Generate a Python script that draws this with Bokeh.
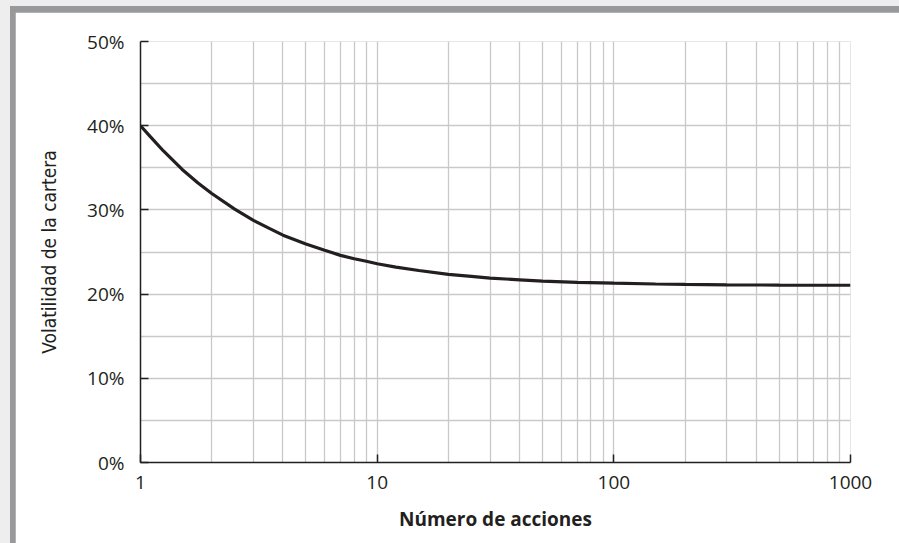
from bokeh.plotting import figure
from bokeh.layouts import column
from bokeh.models import Range1d, FixedTicker, PrintfTickFormatter
from bokeh.embed import file_html
from bokeh.resources import INLINE

# Data (portfolio volatility in % vs. number of stocks)
n_stocks = [1, 1.1, 1.25, 1.5, 1.75, 2, 2.5, 3, 3.5, 4, 5, 6, 7, 8, 9, 10, 12, 15, 20, 25, 30,
            40, 50, 70, 100, 150, 200, 300, 500, 1000]
volatility = [40.0, 38.7, 37.0, 34.8, 33.2, 31.95, 30.1, 28.75, 27.8, 27.0, 25.95, 25.2, 24.6,
              24.2, 23.9, 23.6, 23.2, 22.8, 22.35, 22.1, 21.9, 21.7, 21.55, 21.4, 21.3,
              21.2, 21.15, 21.1, 21.07, 21.05]

x_major = [1, 10, 100, 1000]
x_tick_labels = ["1", "10", "100", "1000"]
x_minor = [2, 3, 4, 5, 6, 7, 8, 9, 20, 30, 40, 50, 60, 70, 80, 90,
           200, 300, 400, 500, 600, 700, 800, 900]
y_major = [0, 10, 20, 30, 40, 50]
y_minor = [5, 15, 25, 35, 45]

INK = "#231f20"
GRID = "#c9c9cb"

p = figure(width=884, height=531, x_axis_type="log",
           x_range=Range1d(1, 1000), y_range=Range1d(0, 50),
           output_backend="svg", toolbar_location=None,
           min_border_left=125, min_border_right=49,
           min_border_top=29, min_border_bottom=81,
           background_fill_color="white", border_fill_color="white",
           margin=(6, 0, 0, 5), sizing_mode="fixed")
p.outline_line_color = None

p.line(n_stocks, volatility, line_color=INK, line_width=3.2)

# x axis
p.xaxis.ticker = FixedTicker(ticks=x_major, minor_ticks=x_minor)
p.xaxis.major_label_overrides = {v: s for v, s in zip(x_major, x_tick_labels)}
p.xaxis.axis_label = "Número de acciones"
# y axis
p.yaxis.ticker = FixedTicker(ticks=y_major, minor_ticks=y_minor)
p.yaxis.formatter = PrintfTickFormatter(format="%d%%")
p.yaxis.axis_label = "Volatilidad de la cartera"

for ax in (p.xaxis, p.yaxis):
    ax.axis_line_color = INK
    ax.axis_line_width = 1.5
    ax.major_tick_line_color = INK
    ax.major_tick_line_width = 1.5
    ax.major_tick_in = 8
    ax.major_tick_out = 0
    ax.minor_tick_line_color = None
    ax.major_label_text_font = "Open Sans"
    ax.major_label_text_font_size = "19px"
    ax.major_label_text_color = INK

p.xaxis.major_label_standoff = 9
p.yaxis.major_label_standoff = 12
p.xaxis.axis_label_text_font = "Open Sans"
p.xaxis.axis_label_text_font_style = "bold"
p.xaxis.axis_label_text_font_size = "19px"
p.xaxis.axis_label_text_color = INK
p.xaxis.axis_label_standoff = 14
p.yaxis.axis_label_text_font = "DejaVu Sans Condensed"
p.yaxis.axis_label_text_font_style = "normal"
p.yaxis.axis_label_text_font_size = "19px"
p.yaxis.axis_label_text_color = INK
p.yaxis.axis_label_standoff = 24

for g in (p.xgrid, p.ygrid):
    g.grid_line_color = GRID
    g.grid_line_width = 1.3
    g.minor_grid_line_color = GRID
    g.minor_grid_line_width = 1.3

inner = column(p, styles={"background-color": "#98999b"}, margin=(6, 0, 0, 10),
               width=889, height=537, sizing_mode="fixed")
layout = column(inner, styles={"background-color": "#eeeeee"},
                width=899, height=543, sizing_mode="fixed")

open("out.html", "w").write(file_html(layout, INLINE))
